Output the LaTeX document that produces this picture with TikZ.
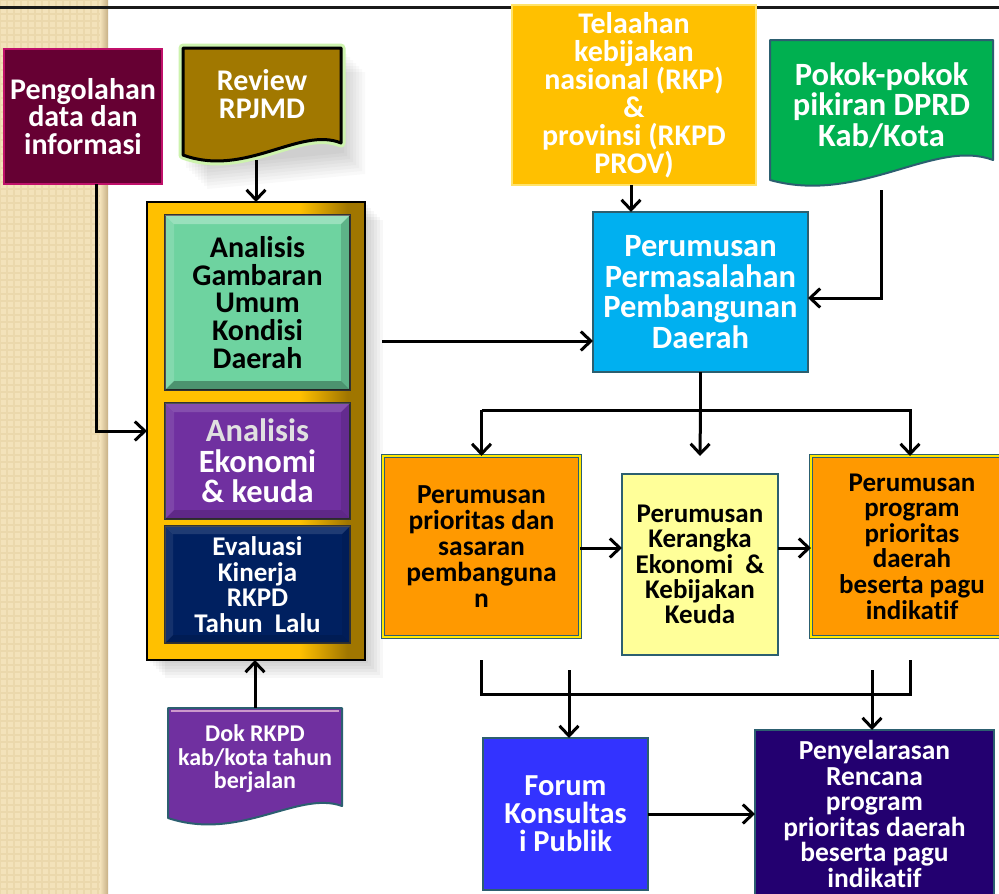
\documentclass[tikz,border=0pt]{standalone}
\usepackage{fontspec}
\setmainfont{Carlito}[Ligatures=NoCommon]
\usetikzlibrary{arrows.meta,calc}
\definecolor{beige}{HTML}{F3E2BA}
\definecolor{beigeline}{HTML}{EBD8AC}
\definecolor{beigedark}{HTML}{C7B085}
\definecolor{pengc}{HTML}{660033}
\definecolor{pengb}{HTML}{C0106A}
\definecolor{revc}{HTML}{A17800}
\definecolor{telc}{HTML}{FFC000}
\definecolor{telb}{HTML}{FFE36A}
\definecolor{pokc}{HTML}{00B050}
\definecolor{tealb}{HTML}{2C5F70}
\definecolor{goldA}{HTML}{FFC000}
\definecolor{goldB}{HTML}{A07600}
\definecolor{gambc}{HTML}{6ED3A0}
\definecolor{ekonc}{HTML}{7030A0}
\definecolor{evalc}{HTML}{002060}
\definecolor{permc}{HTML}{00B0F0}
\definecolor{orc}{HTML}{FF9900}
\definecolor{kerc}{HTML}{FFFF99}
\definecolor{forc}{HTML}{3333FF}
\definecolor{penc}{HTML}{230070}
\definecolor{glow}{HTML}{CDF3AE}
\pgfdeclarehorizontalshading{goldsh}{100bp}{color(0bp)=(goldA); color(25bp)=(goldA); color(60bp)=(goldA); color(71bp)=(goldB); color(100bp)=(goldB)}
\newcommand{\mybevel}[4]{%
\fill[white,opacity=#3] (#1.north west) -- (#1.north east) -- ($(#1.north east)+(-#2,#2)$) -- ($(#1.north west)+(#2,#2)$) -- cycle;
\fill[white,opacity=#4] (#1.north west) -- ($(#1.north west)+(#2,#2)$) -- ($(#1.south west)+(#2,-#2)$) -- (#1.south west) -- cycle;
\fill[black,opacity=#3] (#1.south west) -- ($(#1.south west)+(#2,-#2)$) -- ($(#1.south east)+(-#2,-#2)$) -- (#1.south east) -- cycle;
\fill[black,opacity=#4] (#1.north east) -- (#1.south east) -- ($(#1.south east)+(-#2,-#2)$) -- ($(#1.north east)+(-#2,#2)$) -- cycle;}
\begin{document}
\begin{tikzpicture}[x=1pt,y=-1pt,
  every node/.style={outer sep=0pt, inner sep=0pt, align=center},
  fs/.style 2 args={font=\fontsize{#1pt}{#2pt}\selectfont\bfseries},
  arr/.style={line width=3pt, -{Straight Barb[length=10pt,width=19pt]}},
  conn/.style={line width=3pt}]
\useasboundingbox (0,0) rectangle (999,894);
\clip (0,0) rectangle (999,894);
% background
\fill[white] (0,0) rectangle (999,894);
\fill[beige] (0,0) rectangle (101,894);
\draw[beigeline, line width=1.2pt, step=7pt] (0,0) grid (101,894);
\shade[left color=beige, right color=beigedark] (100,0) rectangle (108,894);
\draw[black!90, line width=3.6pt] (0,7.5) -- (999,7.5);

% Pengolahan
\node[fill=pengc, draw=pengb, line width=2.5pt, minimum width=158pt, minimum height=135pt, text=white, fs={30}{27.5}] (peng) at (83,116.5) {Pengolahan\\data dan\\informasi};

% Review RPJMD (document shape)
\node[minimum width=158pt, minimum height=112pt] (review) at (262,104) {};
\foreach \d in {3,6,...,24} \fill[black,opacity=0.025] (183+\d,48+\d) -- (341+\d,48+\d) -- (341+\d,150+\d) -- (183+\d,165+\d) -- cycle;
\draw[glow, line width=9pt, line join=round] (183,48) -- (341,48) -- (341,143) .. controls (300,126) and (245,178) .. (183,155) -- cycle;
\draw[fill=revc, draw=black, line width=3pt, line join=round] (183,48) -- (341,48) -- (341,143) .. controls (300,126) and (245,178) .. (183,155) -- cycle;
\node[text=white, fs={30}{28}] (reviewt) at (262,94) {Review\\RPJMD};

% Telaahan
\node[fill=telc, draw=telb, line width=2.5pt, minimum width=244pt, minimum height=180pt, text=white, fs={30}{28}] (tel) at (634,95) {Telaahan\\kebijakan\\nasional (RKP)\\\&\\provinsi (RKPD\\PROV)};

% Pokok-pokok (document shape)
\node[minimum width=223pt, minimum height=150pt] (pokok) at (881.5,115) {};
\draw[fill=pokc, draw=tealb, line width=2pt, line join=round] (770,40) -- (993,40) -- (993,160) .. controls (935,138) and (860,205) .. (770,180) -- cycle;
\node[text=white, fs={32.5}{30.5}] (pokokt) at (881.5,105) {Pokok-pokok\\pikiran DPRD\\Kab/Kota};

% container
\foreach \d in {3,6,...,18} \fill[black,opacity=0.03] (147+\d,202+\d) rectangle (365+\d,660+\d);
\node[shading=goldsh, draw=black, line width=1.3pt, minimum width=218pt, minimum height=458pt] (cont) at (256,431) {};

\node[fill=gambc, draw=black!80, line width=1.5pt, minimum width=185pt, minimum height=175pt, text=black, fs={30}{27.8}] (gamb) at (257.5,302.5) {Analisis\\Gambaran\\Umum\\Kondisi\\Daerah};
\mybevel{gamb}{9}{0.3}{0.15}
\node[fill=ekonc, draw=black!80, line width=1.5pt, minimum width=185pt, minimum height=116pt, text=white, fs={32.5}{30.5}] (ekon) at (257.5,461) {\textcolor{black!12}{Analisis}\\Ekonomi\\\& keuda};
\mybevel{ekon}{9}{0.15}{0.1}
\node[fill=evalc, draw=black!80, line width=1.5pt, minimum width=185pt, minimum height=117pt, text=white, fs={27}{25.7}] (eval) at (257.5,584.5) {Evaluasi\\Kinerja\\RKPD\\Tahun~~Lalu};
\mybevel{eval}{8}{0.12}{0.08}

% Dok RKPD (document shape)
\node[minimum width=174pt, minimum height=117pt] (dok) at (255,766.5) {};
\draw[fill=ekonc, draw=tealb, line width=2pt, line join=round] (168,708) -- (342,708) -- (342,806) .. controls (298,790) and (240,842) .. (168,818) -- cycle;
\draw[violet!40, line width=1.2pt] (171,711) -- (339,711);
\node[text=white, fs={24}{23.5}] (dokt) at (255,759) {Dok RKPD\\kab/kota tahun\\berjalan};

% Perumusan Permasalahan
\node[fill=permc, draw=tealb, line width=2pt, minimum width=215pt, minimum height=160pt, text=white, fs={32.5}{30.7}] (perm) at (700.5,292) {Perumusan\\Permasalahan\\Pembangunan\\Daerah};

% row of three
\node[fill=orc, draw=tealb, double=yellow!90!orange, double distance=2.4pt, line width=1pt, minimum width=197pt, minimum height=181pt, text=black, fs={27.5}{26}] (prio) at (481.5,546.5) {Perumusan\\prioritas dan\\sasaran\\pembanguna\\n};
\node[fill=kerc, draw=tealb, line width=2pt, minimum width=156pt, minimum height=181pt, text=black, fs={27}{25.2}] (ker) at (700,564.5) {Perumusan\\Kerangka\\Ekonomi~~\&\\Kebijakan\\Keuda};
\node[fill=orc, draw=tealb, double=yellow!90!orange, double distance=2.4pt, line width=1pt, minimum width=202pt, minimum height=181pt, text=black, fs={27}{25.6}] (prog) at (912,546.5) {Perumusan\\program\\prioritas\\daerah\\beserta pagu\\indikatif};

% bottom
\node[fill=forc, draw=tealb, line width=2pt, minimum width=165pt, minimum height=152pt, text=white, fs={30.5}{28}] (forum) at (565.5,814) {Forum\\Konsultas\\i Publik};
\node[fill=penc, draw=tealb, line width=2pt, minimum width=239pt, minimum height=168pt, text=white, fs={27.5}{25.6}] (pen) at (874.5,814) {Penyelarasan\\Rencana\\program\\prioritas daerah\\beserta pagu\\indikatif};

% connectors
\draw[arr] ([xshift=13pt]peng.south) |- (cont.west);
\draw[arr] (review.south -| cont.north) -- (cont.north);
\draw[arr] ([xshift=-3pt]tel.south) -- ([xshift=-3pt]tel.south |- perm.north);
\draw[arr] (pokok.south) |- ([yshift=-6pt]perm.east);
\coordinate (cg) at (382,341);
\draw[arr] (cg) -- (cg -| perm.west);
\draw[conn] (perm.south) -- ++(0,38) coordinate (bus);
\draw[conn] (prio.north |- bus) -- (prog.north |- bus);
\draw[arr] (prio.north |- bus) -- (prio.north);
\draw[arr] (bus) -- ([yshift=18pt]ker.north);
\draw[arr] ([xshift=-2pt]prog.north |- bus) -- ([xshift=-2pt]prog.north);
\draw[arr] (prio.east |- 0,548) -- (ker.west |- 0,548);
\draw[arr] (ker.east |- 0,548) -- (prog.west |- 0,548);
\draw[conn] ([yshift=-23pt]prio.south) -- ++(0,34) -| ([xshift=-2pt,yshift=-23pt]prog.south);
\draw[arr] ([xshift=3.5pt,yshift=68pt]forum.north) -- ([xshift=3.5pt]forum.north);
\draw[arr] ([xshift=-2.5pt,yshift=60pt]pen.north) -- ([xshift=-2.5pt]pen.north);
\draw[arr] (forum.east) -- (pen.west);
\draw[arr] (dok.north) -- (dok.north |- cont.south);
\end{tikzpicture}
\end{document}
